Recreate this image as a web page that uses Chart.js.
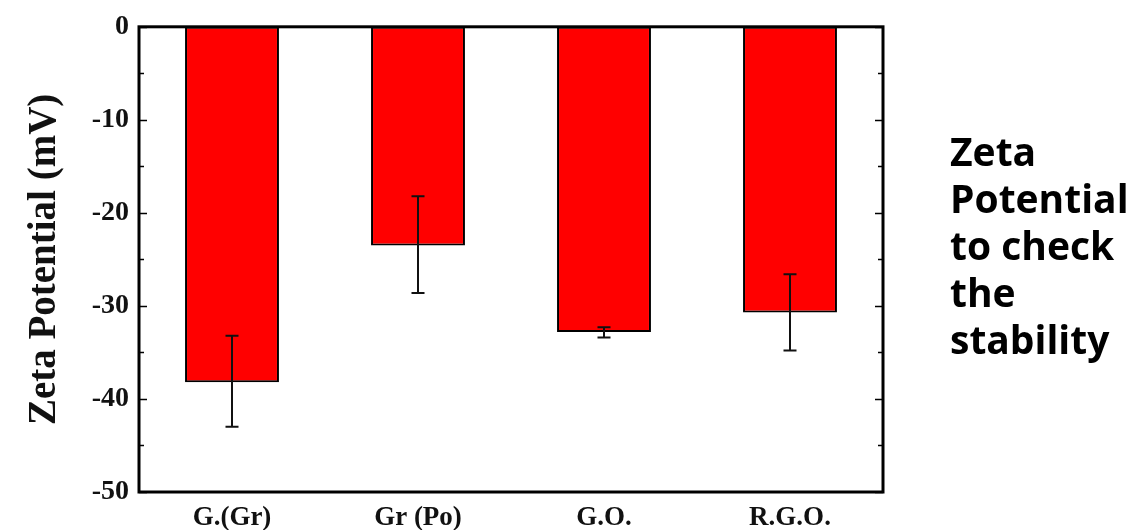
<!DOCTYPE html>
<html>
<head>
<meta charset="utf-8">
<script src="https://cdn.jsdelivr.net/npm/chart.js@4"></script>
<style>
  body { margin: 0; background: #fff; }
  #wrap { position: relative; width: 1127px; height: 530px; overflow: hidden; }
  #side {
    position: absolute; left: 950px; top: 127px;
    font-family: "Open Sans", sans-serif; font-weight: 700;
    font-size: 39px; line-height: 47px; color: #000; white-space: nowrap;
  }
</style>
</head>
<body>
<div id="wrap">
  <canvas id="zetaChart" width="1127" height="530"></canvas>
  <div id="side">Zeta<br>Potential<br>to check<br>the<br>stability</div>
</div>
<script>
// data
const samples = ['G.(Gr)', 'Gr (Po)', 'G.O.', 'R.G.O.'];
const zetaMean = [-38.2, -23.5, -32.8, -30.7];
const errTop = [-33.2, -18.2, -32.3, -26.6];
const errBottom = [-43.0, -28.6, -33.4, -34.8];
const yTicks = [0, -10, -20, -30, -40, -50];

const serif = '"Liberation Serif", "Times New Roman", serif';

// black frame with inward ticks on left and right
const frame = {
    id: 'frame',
    afterDraw(chart) {
        const { ctx, chartArea: a, scales } = chart;
        const y = scales.y;
        ctx.save();
        ctx.strokeStyle = '#000';
        ctx.lineWidth = 1.5;
        for (let v = 0; v >= -50; v -= 5) {
            const py = Math.round(y.getPixelForValue(v)) + 0.5;
            const len = v % 10 === 0 ? 8 : 5;
            ctx.beginPath();
            ctx.moveTo(a.left, py); ctx.lineTo(a.left + len, py);
            ctx.moveTo(a.right, py); ctx.lineTo(a.right - len, py);
            ctx.stroke();
        }
        ctx.lineWidth = 3;
        ctx.strokeRect(a.left, a.top, a.right - a.left, a.bottom - a.top);
        ctx.restore();
    }
};

const errorBars = {
    id: 'errorBars',
    afterDatasetsDraw(chart) {
        const { ctx, scales } = chart;
        const meta = chart.getDatasetMeta(0);
        ctx.save();
        ctx.strokeStyle = '#111';
        ctx.lineWidth = 2;
        meta.data.forEach((bar, i) => {
            const y1 = scales.y.getPixelForValue(errTop[i]);
            const y2 = scales.y.getPixelForValue(errBottom[i]);
            ctx.beginPath();
            ctx.moveTo(bar.x, y1); ctx.lineTo(bar.x, y2);
            ctx.moveTo(bar.x - 6.5, y1); ctx.lineTo(bar.x + 6.5, y1);
            ctx.moveTo(bar.x - 6.5, y2); ctx.lineTo(bar.x + 6.5, y2);
            ctx.stroke();
        });
        ctx.restore();
    }
};

const ctx = document.getElementById('zetaChart').getContext('2d');
new Chart(ctx, {
    type: 'bar',
    data: {
        labels: samples,
        datasets: [{
            data: zetaMean,
            backgroundColor: '#ff0000',
            borderColor: '#000',
            borderWidth: 2,
            borderSkipped: false,
            categoryPercentage: 1,
            barPercentage: 0.505
        }]
    },
    options: {
        responsive: false,
        animation: false,
        devicePixelRatio: 1,
        layout: { padding: { left: 0, right: 244, top: 24, bottom: 0 } },
        plugins: { legend: { display: false }, tooltip: { enabled: false } },
        scales: {
            x: {
                grid: { display: false },
                border: { display: false },
                ticks: { color: '#111', font: { family: serif, size: 27, weight: 'bold' }, padding: 2 },
                afterFit: (s) => { s.height = 38; }
            },
            y: {
                min: -50,
                max: 0,
                afterBuildTicks: (s) => { s.ticks = yTicks.map(v => ({ value: v })); },
                grid: { display: false, drawTicks: false },
                border: { display: false },
                ticks: { color: '#111', font: { family: serif, size: 28, weight: 'bold' }, padding: 10 },
                title: {
                    display: true,
                    text: 'Zeta Potential (mV)',
                    color: '#111',
                    font: { family: serif, size: 39, weight: 'bold' },
                    padding: { top: 22, bottom: 0 }
                },
                afterFit: (s) => { s.width = 139; }
            }
        }
    },
    plugins: [errorBars, frame]
});
</script>
</body>
</html>
